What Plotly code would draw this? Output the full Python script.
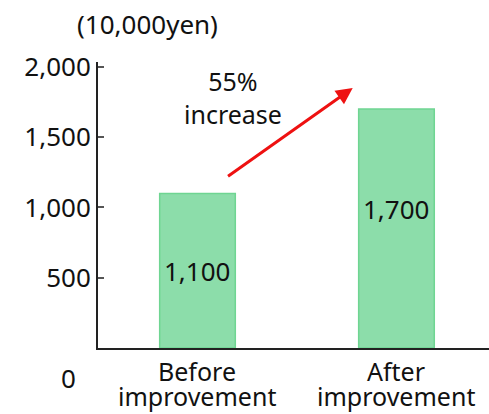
import plotly.graph_objects as go

categories = ["Before\nimprovement", "After\nimprovement"]
values = [1100, 1700]
value_labels = ["1,100", "1,700"]
tick_vals = [500, 1000, 1500, 2000]
tick_text = ["500", "1,000", "1,500", "2,000"]

FONT = "Noto Sans, Open Sans, sans-serif"
INK = "#111"

W, H = 489, 414
ML, MR, MT, MB = 98, 0, 62, 66
PW, PH = W - ML - MR, H - MT - MB


def px_to_paper(x, y):
    return (x - ML) / PW, 1 - (y - MT) / PH


fig = go.Figure()
fig.add_trace(go.Bar(
    x=[0, 1],
    y=values,
    width=0.38,
    marker=dict(color="#8CDDAA", line=dict(color="#6FD592", width=1.5)),
    hoverinfo="skip",
))

# value labels inside the bars
fig.add_annotation(x=0, y=values[0] * 0.5, text=value_labels[0], showarrow=False,
                   xref="x", yref="y", font=dict(size=26, color=INK, family=FONT))
fig.add_annotation(x=1, y=values[1] * 0.58, text=value_labels[1], showarrow=False,
                   xref="x", yref="y", font=dict(size=26, color=INK, family=FONT))

# growth arrow
fig.add_annotation(x=0.78, y=1850, ax=0.146, ay=1215, xref="x", yref="y",
                   axref="x", ayref="y", text="", showarrow=True,
                   arrowhead=2, arrowsize=1.1, arrowwidth=3, arrowcolor="#EE1111")
fig.add_annotation(x=0.18, y=1785, text="55%<br>increase", showarrow=False,
                   xref="x", yref="y", font=dict(size=25, color=INK, family=FONT))

# category labels, two tight lines each
for i, cat in enumerate(categories):
    for j, line in enumerate(cat.split("\n")):
        _, py = px_to_paper(0, 371 + 25 * j)
        fig.add_annotation(x=i, y=py, xref="x", yref="paper", text=line,
                           showarrow=False, yanchor="middle",
                           font=dict(size=25, color=INK, family=FONT))

# unit label and zero label
for text, (px, py) in [("(10,000yen)", (147, 24)), ("0", (68, 378))]:
    ax_, ay_ = px_to_paper(px, py)
    fig.add_annotation(x=ax_, y=ay_, xref="paper", yref="paper", text=text,
                       showarrow=False, xanchor="center", yanchor="middle",
                       font=dict(size=26, color=INK, family=FONT))

fig.update_layout(
    width=W, height=H,
    margin=dict(l=ML, r=MR, t=MT, b=MB),
    paper_bgcolor="white", plot_bgcolor="white",
    showlegend=False,
    font=dict(family=FONT, color=INK),
    xaxis=dict(
        range=[-0.5, 1.465],
        tickvals=[0, 1], showticklabels=False,
        showline=True, linecolor="#222", linewidth=2,
        ticks="", showgrid=False, zeroline=False,
    ),
    yaxis=dict(
        range=[0, 2035],
        tickvals=tick_vals, ticktext=tick_text,
        showline=True, linecolor="#222", linewidth=2,
        ticks="inside", ticklen=6, tickwidth=2, tickcolor="#555",
        showgrid=False, zeroline=False,
        tickfont=dict(size=26, family=FONT, color=INK),
    ),
)

fig.write_html("out.html")
